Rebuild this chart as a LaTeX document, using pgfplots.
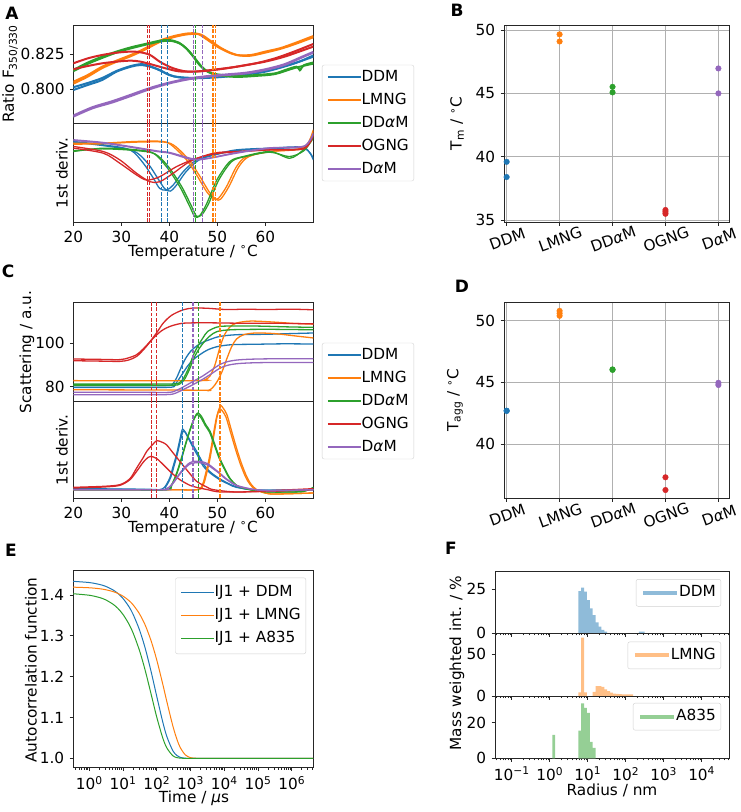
\documentclass[border=0pt]{standalone}
\usepackage{pgfplots}
\pgfplotsset{compat=1.18}
\usepackage{fontspec}
\setmainfont{DejaVu Sans}
\definecolor{cB}{HTML}{1F77B4}
\definecolor{cO}{HTML}{FF7F0E}
\definecolor{cG}{HTML}{2CA02C}
\definecolor{cR}{HTML}{D62728}
\definecolor{cP}{HTML}{9467BD}
\definecolor{hB}{HTML}{8FBBD9}
\definecolor{hO}{HTML}{FFBF86}
\definecolor{hG}{HTML}{95CF95}
\definecolor{gridc}{HTML}{B0B0B0}
\definecolor{spine}{HTML}{262626}
\pgfplotsset{
 every axis/.append style={scale only axis, tick align=outside, tick pos=left,
   axis line style={spine, line width=0.8pt}, tick style={spine, line width=0.8pt},
   major tick length=3.5pt, minor tick length=2pt, legend cell align=left},
 mylegend/.style={legend style={draw=black!18, rounded corners=2pt, fill=white,
   inner xsep=5pt, inner ysep=5pt, row sep=9pt,
   nodes={inner sep=0pt, text height=11pt, text depth=3pt},
   /tikz/every even column/.append style={column sep=12pt}},
   legend image code/.code={\draw[##1] (0pt,0pt) -- (33pt,0pt);}},
 hlegend/.style={legend style={draw=black!18, rounded corners=2pt, fill=white,
   inner xsep=5pt, inner ysep=6.5pt,
   nodes={inner sep=0pt, text height=11pt, text depth=3pt},
   /tikz/every even column/.append style={column sep=10pt}},
   legend image code/.code={\draw[##1, line width=4pt] (0pt,0pt) -- (34pt,0pt);}},
 cu/.style={line width=2pt, smooth, forget plot},
 cd/.style={line width=1.3pt, smooth, forget plot},
 vl/.style={line width=1.1pt, dash pattern=on 3.7pt off 1.6pt, forget plot},
 fax/.style={width=234pt, xmin=-1.44, xmax=4.72, ymin=0,
   xtick={-1,0,1,2,3,4},
   minor xtick={-1.398,-1.301,-1.222,-1.155,-1.097,-1.046,-0.699,-0.523,-0.398,-0.301,-0.222,-0.155,-0.097,-0.046,0.301,0.477,0.602,0.699,0.778,0.845,0.903,0.954,1.301,1.477,1.602,1.699,1.778,1.845,1.903,1.954,2.301,2.477,2.602,2.699,2.778,2.845,2.903,2.954,3.301,3.477,3.602,3.699,3.778,3.845,3.903,3.954,4.301,4.477,4.602,4.699}},
 bl/.style={const plot mark left, draw=none, forget plot},
}
\begin{document}
\fontsize{15.3}{18}\selectfont
\begin{tikzpicture}[font=\fontsize{15.3}{18}\selectfont]
\useasboundingbox (0,0) rectangle (740pt,-812pt);

% ---------------- A upper
\begin{axis}[at={(73.3pt,-25pt)}, anchor=north west, width=240pt, height=98pt,
 xmin=20, xmax=70, ymin=0.7762, ymax=0.8455, xtick=\empty, ytick={0.8,0.825}, yticklabels={0.800,0.825},
 mylegend, legend style={at={(axis description cs:1.036,0)}, anchor=west}]
\addlegendimage{cB, line width=1.5pt}\addlegendentry{DDM}
\addlegendimage{cO, line width=1.5pt}\addlegendentry{LMNG}
\addlegendimage{cG, line width=1.5pt}\addlegendentry{DD\textit{α}M}
\addlegendimage{cR, line width=1.5pt}\addlegendentry{OGNG}
\addlegendimage{cP, line width=1.5pt}\addlegendentry{D\textit{α}M}
\addplot[cB, cu] coordinates {(20,0.7995)(23,0.8031)(26,0.8066)(29,0.8125)(32,0.8160)(34,0.8172)(36,0.8160)(38,0.8137)(40,0.8101)(42,0.8085)(45,0.8078)(50,0.8085)(55,0.8101)(60,0.8125)(65,0.8172)(70,0.8231)};
\addplot[cB, cu] coordinates {(20,0.8015)(23,0.8045)(26,0.8080)(29,0.8130)(32,0.8165)(34.5,0.8178)(37,0.8150)(39,0.8118)(41,0.8092)(44,0.8082)(48,0.8085)(53,0.8098)(58,0.8120)(63,0.8155)(67,0.8195)(70,0.8240)};
\addplot[cO, cu] coordinates {(20,0.8054)(23,0.8101)(26,0.8160)(29,0.8203)(32,0.8243)(35,0.8290)(38,0.8344)(41,0.8377)(44,0.8396)(46,0.8392)(48,0.8349)(50,0.8302)(52,0.8267)(54,0.8243)(57,0.8243)(60,0.8267)(63,0.8290)(66,0.8325)(70,0.8377)};
\addplot[cO, cu] coordinates {(20,0.8040)(23,0.8090)(26,0.8150)(29,0.8195)(32,0.8235)(35,0.8282)(38,0.8335)(41,0.8370)(44,0.8390)(46.5,0.8388)(48.5,0.8345)(50.5,0.8298)(52.5,0.8262)(54.5,0.8240)(57,0.8238)(60,0.8260)(63,0.8285)(66,0.8318)(70,0.8368)};
\addplot[cG, cu] coordinates {(20,0.8137)(23,0.8189)(26,0.8231)(29,0.8267)(32,0.8297)(35,0.8321)(38,0.8344)(40,0.8349)(42,0.8330)(43.5,0.8290)(45,0.8231)(46,0.8184)(47,0.8149)(48,0.8125)(50,0.8106)(54,0.8094)(58,0.8101)(62,0.8113)(64,0.8135)(66.5,0.8160)(67.2,0.8135)(68,0.8170)(70,0.8190)};
\addplot[cG, cu] coordinates {(20,0.8128)(23,0.8180)(26,0.8222)(29,0.8260)(32,0.8290)(35,0.8315)(38,0.8338)(40.3,0.8343)(42.3,0.8322)(43.8,0.8282)(45.3,0.8222)(46.3,0.8178)(47.3,0.8143)(48.3,0.8120)(50,0.8100)(54,0.8088)(58,0.8095)(62,0.8108)(66,0.8150)(70,0.8182)};
\addplot[cR, cu] coordinates {(20,0.8184)(23,0.8219)(26,0.8243)(29,0.8259)(32,0.8267)(34,0.8262)(36,0.8243)(38,0.8196)(40,0.8160)(42,0.8137)(44,0.8125)(47,0.8130)(50,0.8142)(54,0.8160)(58,0.8184)(62,0.8219)(66,0.8267)(70,0.8321)};
\addplot[cR, cu] coordinates {(20,0.8142)(23,0.8165)(26,0.8184)(29,0.8196)(32,0.8203)(34,0.8196)(36,0.8179)(38,0.8160)(40,0.8142)(42,0.8127)(45,0.8125)(48,0.8132)(52,0.8149)(56,0.8172)(60,0.8196)(64,0.8231)(68,0.8278)(70,0.8302)};
\addplot[cP, cu] coordinates {(20,0.7807)(24,0.7866)(28,0.7906)(32,0.7953)(36,0.8002)(40,0.8042)(44,0.8071)(48,0.8090)(52,0.8101)(56,0.8113)(60,0.8137)(64,0.8172)(68,0.8231)(70,0.8259)};
\addplot[cP, cu] coordinates {(20,0.7815)(24,0.7874)(28,0.7915)(32,0.7962)(36,0.8010)(40,0.8048)(44,0.8076)(48,0.8094)(52,0.8106)(56,0.8118)(60,0.8142)(64,0.8178)(68,0.8236)(70,0.8265)};
\addplot[draw=cB, vl] coordinates {(38.4,0.7762)(38.4,0.8455)};
\addplot[draw=cB, vl] coordinates {(39.6,0.7762)(39.6,0.8455)};
\addplot[draw=cO, vl] coordinates {(49.1,0.7762)(49.1,0.8455)};
\addplot[draw=cO, vl] coordinates {(49.65,0.7762)(49.65,0.8455)};
\addplot[draw=cG, vl] coordinates {(45.1,0.7762)(45.1,0.8455)};
\addplot[draw=cG, vl] coordinates {(45.5,0.7762)(45.5,0.8455)};
\addplot[draw=cR, vl] coordinates {(35.5,0.7762)(35.5,0.8455)};
\addplot[draw=cR, vl] coordinates {(35.8,0.7762)(35.8,0.8455)};
\addplot[draw=cP, vl] coordinates {(45.0,0.7762)(45.0,0.8455)};
\addplot[draw=cP, vl] coordinates {(46.95,0.7762)(46.95,0.8455)};
\end{axis}

% ---------------- A lower
\begin{axis}[at={(73.3pt,-123pt)}, anchor=north west, width=240pt, height=99pt,
 xmin=20, xmax=70, ymin=0, ymax=295, ytick=\empty, xtick={20,30,40,50,60}, xticklabels={20,30,40,50,60}]
\addplot[cB, cd] coordinates {(20,240)(26.25,230)(31.8,215)(34.6,175)(36.7,130)(38,100)(39.4,95)(40.8,110)(42.9,150)(45.7,185)(49.2,200)(54,215)(61,220)(68,222)(70,185)};
\addplot[cB, cd] coordinates {(20,238)(26,228)(32.5,212)(35.5,175)(37.6,130)(39,100)(40.2,92)(41.5,110)(43.5,150)(46.2,185)(49.5,200)(54,213)(61,218)(68,220)(70,190)};
\addplot[cO, cd] coordinates {(20,235)(26,235)(33,240)(38.7,240)(40.8,225)(43.6,185)(45.7,140)(47.8,90)(49.2,70)(50.2,70)(51.9,105)(54,165)(56.1,195)(61,210)(68,222)(70,275)};
\addplot[cO, cd] coordinates {(20,232)(26,233)(33,238)(39,238)(41.3,225)(44.1,185)(46.2,140)(48.3,90)(49.7,68)(50.7,68)(52.4,105)(54.5,165)(56.6,195)(61,210)(68,220)(70,270)};
\addplot[cG, cd] coordinates {(20,210)(26.25,220)(33.2,215)(36.7,205)(39.4,165)(42.2,105)(44.3,45)(45.35,15)(46.4,20)(47.8,55)(49.9,125)(52.6,180)(55.4,195)(61,210)(65.1,190)(67.9,215)(70,255)};
\addplot[cG, cd] coordinates {(20,212)(26,218)(33,213)(37,203)(39.8,165)(42.6,105)(44.7,45)(45.7,17)(46.8,22)(48.2,55)(50.3,125)(53,180)(55.8,195)(61,208)(65,195)(68,212)(70,250)};
\addplot[cR, cd] coordinates {(20,225)(26.25,210)(29.7,185)(33.2,145)(36,120)(38,120)(40.8,145)(44.3,180)(49.2,205)(54,210)(61,215)(68,220)(70,260)};
\addplot[cR, cd] coordinates {(20,220)(26.25,205)(29.7,175)(33.2,140)(35.3,125)(38,135)(41.5,165)(45.7,190)(50.5,205)(61,215)(68,218)(70,258)};
\addplot[cP, cd] coordinates {(20,243)(26.25,235)(33.2,220)(37.4,210)(40.1,205)(43.6,190)(45.7,185)(48.5,190)(54,205)(61,220)(68,225)(70,265)};
\addplot[cP, cd] coordinates {(20,245)(26.25,237)(33.2,222)(37.4,212)(40.1,207)(43.6,193)(45.7,187)(48.5,191)(54,207)(61,221)(68,226)(70,262)};
\addplot[draw=cB, vl] coordinates {(38.4,0)(38.4,295)};
\addplot[draw=cB, vl] coordinates {(39.6,0)(39.6,295)};
\addplot[draw=cO, vl] coordinates {(49.1,0)(49.1,295)};
\addplot[draw=cO, vl] coordinates {(49.65,0)(49.65,295)};
\addplot[draw=cG, vl] coordinates {(45.1,0)(45.1,295)};
\addplot[draw=cG, vl] coordinates {(45.5,0)(45.5,295)};
\addplot[draw=cR, vl] coordinates {(35.5,0)(35.5,295)};
\addplot[draw=cR, vl] coordinates {(35.8,0)(35.8,295)};
\addplot[draw=cP, vl] coordinates {(45.0,0)(45.0,295)};
\addplot[draw=cP, vl] coordinates {(46.95,0)(46.95,295)};
\end{axis}

% ---------------- B
\begin{axis}[at={(504pt,-25pt)}, anchor=north west, width=225pt, height=197pt,
 xmin=-0.05, xmax=4.2, ymin=34.85, ymax=50.4, xtick={0,1,2,3,4},
 xticklabels={DDM,LMNG,DD\textit{α}M,OGNG,D\textit{α}M}, ytick={35,40,45,50}, yticklabels={35,40,45,50},
 xticklabel style={rotate=20, anchor=north, yshift=-2pt, xshift=-4pt},
 grid=major, grid style={gridc, line width=0.8pt}]
\addplot[only marks, mark=*, mark size=2.8pt, cB] coordinates {(0,39.6)(0,38.4)};
\addplot[only marks, mark=*, mark size=2.8pt, cO] coordinates {(1,49.66)(1,49.1)};
\addplot[only marks, mark=*, mark size=2.8pt, cG] coordinates {(2,45.52)(2,45.08)};
\addplot[only marks, mark=*, mark size=2.8pt, cR] coordinates {(3,35.8)(3,35.65)(3,35.5)};
\addplot[only marks, mark=*, mark size=2.8pt, cP] coordinates {(4,46.97)(4,45.0)};
\end{axis}

% ---------------- C upper
\begin{axis}[at={(73.3pt,-302pt)}, anchor=north west, width=240pt, height=99pt,
 xmin=20, xmax=70, ymin=73.4, ymax=119.1, xtick=\empty, ytick={80,100}, yticklabels={80,100},
 mylegend, legend style={at={(axis description cs:1.036,0)}, anchor=west}]
\addlegendimage{cB, line width=1.5pt}\addlegendentry{DDM}
\addlegendimage{cO, line width=1.5pt}\addlegendentry{LMNG}
\addlegendimage{cG, line width=1.5pt}\addlegendentry{DD\textit{α}M}
\addlegendimage{cR, line width=1.5pt}\addlegendentry{OGNG}
\addlegendimage{cP, line width=1.5pt}\addlegendentry{D\textit{α}M}
\addplot[cB, cd] coordinates {(20,80.6)(35,80.6)(40,80.6)(40.8,81.5)(41.5,84)(42.2,87.5)(42.9,91)(43.6,93.8)(44.5,96.5)(45.7,98.8)(47,100.5)(48.5,101.8)(50.5,103.2)(54,104)(60,104.2)(65,104.5)(70,104.8)};
\addplot[cB, cd] coordinates {(20,79.7)(35,79.7)(40.5,79.8)(41.2,81)(42,83.5)(42.9,86.5)(43.8,89.5)(45,92.5)(46.5,95)(48,97)(50,98.5)(53,99.4)(58,99.6)(64,99.8)(70,99.7)};
\addplot[cO, cd] coordinates {(20,82.8)(46,82.8)(47.5,83.3)(48.5,85)(49.5,90)(50.5,97.8)(51.5,104)(52.6,107.5)(54,109.4)(57,110.3)(62,109.8)(66,109.2)(70,108.9)};
\addplot[cO, cd] coordinates {(20,78.6)(46,78.4)(48,78.2)(49,79.5)(50,82.5)(51,87)(52,93)(53,98.5)(54,102)(55.5,104)(58,104.8)(62,104.5)(66,103.5)(70,102.5)};
\addplot[cG, cd] coordinates {(20,81.2)(35,81.2)(41,81.3)(42.2,82)(43,84)(44,88.5)(45,94.5)(46,99)(47,102.5)(48,105.5)(49.9,107.5)(52,108)(58,108)(65,107.6)(70,107.4)};
\addplot[cG, cd] coordinates {(20,80.6)(35,80.6)(41,80.7)(42.2,81.3)(43.2,83.5)(44.2,88)(45.2,93.5)(46.2,97.5)(47.2,100.5)(48.5,103.5)(50,105.5)(53,106.3)(60,106.5)(65,106.4)(70,106.3)};
\addplot[cR, cd] coordinates {(20,92.8)(26,92.6)(29.7,92.5)(31.5,93.3)(33.2,94.8)(34.6,97.5)(36,100.9)(37.4,105)(38.75,109.4)(40.5,113)(42.9,115.5)(45,116.3)(48,116.2)(52,115.6)(56,115.8)(60,115.6)(65,115.8)(70,115.5)};
\addplot[cR, cd] coordinates {(20,92.0)(26,91.8)(29.7,91.7)(31.5,92.3)(33.2,94.0)(34.8,97.5)(36.7,102.5)(38.5,106)(40.1,107.8)(42,109)(43.6,109.4)(48,109.5)(55,109.3)(62,109.3)(70,109.0)};
\addplot[cP, cd] coordinates {(20,77.4)(35,77.4)(40,77.4)(41.5,78.3)(43,80)(45,82.5)(47,85)(49,88)(50.5,90.2)(52,91.5)(54,92.3)(57,92.7)(62,92.9)(70,92.9)};
\addplot[cP, cd] coordinates {(20,76.3)(35,76.3)(40,76.4)(41.5,77.2)(43,78.8)(45,81)(47,83.5)(49,86.3)(50.5,88.5)(52,89.8)(54,90.6)(57,91)(62,91.2)(70,91.2)};
\addplot[draw=cB, vl] coordinates {(42.7,73.4)(42.7,119.1)};
\addplot[draw=cB, vl] coordinates {(42.75,73.4)(42.75,119.1)};
\addplot[draw=cO, vl] coordinates {(50.55,73.4)(50.55,119.1)};
\addplot[draw=cO, vl] coordinates {(50.75,73.4)(50.75,119.1)};
\addplot[draw=cG, vl] coordinates {(46.05,73.4)(46.05,119.1)};
\addplot[draw=cR, vl] coordinates {(36.3,73.4)(36.3,119.1)};
\addplot[draw=cR, vl] coordinates {(37.35,73.4)(37.35,119.1)};
\addplot[draw=cP, vl] coordinates {(44.8,73.4)(44.8,119.1)};
\addplot[draw=cP, vl] coordinates {(45.0,73.4)(45.0,119.1)};
\end{axis}

% ---------------- C lower
\begin{axis}[at={(73.3pt,-401pt)}, anchor=north west, width=240pt, height=97pt,
 xmin=20, xmax=70, ymin=0, ymax=291, ytick=\empty, xtick={20,30,40,50,60}, xticklabels={20,30,40,50,60}]
\addplot[cB, cd] coordinates {(20,28)(30,27)(36,26)(38,25)(39,32)(40.1,60)(40.8,95)(41.5,130)(42.2,175)(42.7,205)(43.2,200)(44.3,170)(45,150)(46,125)(47.1,95)(48.5,75)(50.5,55)(52.6,40)(54,32)(58,24)(61,22)(70,25)};
\addplot[cB, cd] coordinates {(20,28)(38,25)(39.2,33)(40.3,62)(41,97)(41.7,133)(42.4,178)(42.9,200)(43.4,196)(44.5,168)(45.5,145)(47.3,98)(48.7,76)(50.7,56)(52.8,40)(54,33)(58,24)(70,25)};
\addplot[cO, cd] coordinates {(20,25)(40,25)(46,25)(47.1,40)(47.8,75)(48.5,120)(49.2,180)(49.9,240)(50.4,268)(50.7,278)(51.2,270)(52,250)(53,200)(54,150)(55,105)(56.1,65)(57,42)(58.2,25)(60,15)(62,12)(70,15)};
\addplot[cO, cd] coordinates {(20,25)(40,25)(45.8,25)(46.9,40)(47.6,75)(48.3,118)(49,175)(49.7,233)(50.2,260)(50.5,268)(51,262)(51.8,243)(52.8,195)(53.8,146)(54.8,102)(55.9,63)(56.8,41)(58,25)(60,15)(62,12)(70,15)};
\addplot[cG, cd] coordinates {(20,25)(30,25)(39.4,25)(40.5,38)(41.5,70)(42.5,115)(43.6,170)(44.7,220)(45.5,248)(46,255)(46.7,245)(47.6,220)(48.5,200)(49.5,160)(50.5,120)(51.5,90)(52.6,60)(54,38)(55.4,30)(58,22)(61,18)(65,18)(68,20)(70,32)};
\addplot[cG, cd] coordinates {(20,25)(30,25)(39.3,25)(40.4,38)(41.4,70)(42.4,114)(43.5,168)(44.6,217)(45.4,244)(45.9,250)(46.6,241)(47.5,217)(48.4,197)(49.4,158)(50.4,119)(51.4,89)(52.5,60)(54,38)(55.4,30)(58,22)(61,18)(65,18)(68,20)(70,30)};
\addplot[cR, cd] coordinates {(20,32)(26.25,35)(29.7,40)(31.8,58)(33.2,90)(34.6,122)(35.3,140)(36.7,163)(37.4,172)(38.4,168)(39.4,160)(40.8,135)(42.2,110)(44,78)(45.7,50)(47.8,33)(49.2,25)(54,18)(61,22)(70,28)};
\addplot[cR, cd] coordinates {(20,30)(26.25,33)(29.7,38)(31.8,55)(33.2,80)(34.6,108)(35.6,122)(36.2,125)(37.4,118)(38.75,100)(40.5,75)(42.2,55)(44.3,38)(45.7,32)(48,25)(51,18)(61,20)(70,25)};
\addplot[cP, cd] coordinates {(20,25)(38,25)(39.4,27)(40.5,40)(41.5,60)(42.5,80)(43.6,98)(44.3,106)(45,110)(46,110)(47.1,108)(48,103)(49.2,90)(50.5,75)(51.5,62)(52.6,50)(54,38)(56.1,30)(58,25)(61,22)(70,25)};
\addplot[cP, cd] coordinates {(20,25)(38,25)(39.4,27)(40.5,39)(41.5,58)(42.5,77)(43.6,94)(44.3,102)(45,105)(46,106)(47.1,104)(48,99)(49.2,87)(50.5,73)(51.5,60)(52.6,49)(54,37)(56.1,29)(58,25)(61,22)(70,25)};
\addplot[draw=cB, vl] coordinates {(42.7,0)(42.7,291)};
\addplot[draw=cB, vl] coordinates {(42.75,0)(42.75,291)};
\addplot[draw=cO, vl] coordinates {(50.55,0)(50.55,291)};
\addplot[draw=cO, vl] coordinates {(50.75,0)(50.75,291)};
\addplot[draw=cG, vl] coordinates {(46.05,0)(46.05,291)};
\addplot[draw=cR, vl] coordinates {(36.3,0)(36.3,291)};
\addplot[draw=cR, vl] coordinates {(37.35,0)(37.35,291)};
\addplot[draw=cP, vl] coordinates {(44.8,0)(44.8,291)};
\addplot[draw=cP, vl] coordinates {(45.0,0)(45.0,291)};
\end{axis}

% ---------------- D
\begin{axis}[at={(504pt,-302.3pt)}, anchor=north west, width=225pt, height=196pt,
 xmin=-0.05, xmax=4.2, ymin=35.63, ymax=51.49, xtick={0,1,2,3,4},
 xticklabels={DDM,LMNG,DD\textit{α}M,OGNG,D\textit{α}M}, ytick={40,45,50}, yticklabels={40,45,50},
 xticklabel style={rotate=20, anchor=north, yshift=-2pt, xshift=-4pt},
 grid=major, grid style={gridc, line width=0.8pt}]
\addplot[only marks, mark=*, mark size=2.8pt, cB] coordinates {(0,42.72)(0,42.7)};
\addplot[only marks, mark=*, mark size=2.8pt, cO] coordinates {(1,50.8)(1,50.6)(1,50.4)};
\addplot[only marks, mark=*, mark size=2.8pt, cG] coordinates {(2,46.06)(2,46.02)};
\addplot[only marks, mark=*, mark size=2.8pt, cR] coordinates {(3,37.33)(3,36.3)};
\addplot[only marks, mark=*, mark size=2.8pt, cP] coordinates {(4,44.98)(4,44.8)};
\end{axis}

% ---------------- E
\begin{axis}[xmode=log, at={(73pt,-570.7pt)}, anchor=north west, width=240pt, height=197pt,
 xmin=0.33, xmax=4.27e6, ymin=0.977, ymax=1.4595,
 xtick={1,10,100,1000,10000,100000,1000000},
 xticklabels={10\textsuperscript{0},10\textsuperscript{1},10\textsuperscript{2},10\textsuperscript{3},10\textsuperscript{4},10\textsuperscript{5},10\textsuperscript{6}},
 minor xtick={0.4,0.5,0.6,0.7,0.8,0.9,2,3,4,5,6,7,8,9,20,30,40,50,60,70,80,90,200,300,400,500,600,700,800,900,2000,3000,4000,5000,6000,7000,8000,9000,2e4,3e4,4e4,5e4,6e4,7e4,8e4,9e4,2e5,3e5,4e5,5e5,6e5,7e5,8e5,9e5,2e6,3e6,4e6},
 ytick={1.0,1.1,1.2,1.3,1.4}, yticklabels={1.0,1.1,1.2,1.3,1.4},
 mylegend, legend style={at={(axis description cs:0.971,0.965)}, anchor=north east, inner ysep=8pt, row sep=9pt},
 legend image code/.code={\draw[#1] (0pt,0pt) -- (33pt,0pt);},
 /tikz/every even column/.append style={column sep=13pt}]
\addplot[cB, line width=1pt, smooth] coordinates {(0.33,1.4335)(1,1.4305)(2,1.4259)(3,1.4215)(5,1.4127)(7,1.4041)(10,1.3915)(15,1.3715)(20,1.3524)(30,1.3172)(40,1.2855)(50,1.2570)(70,1.2082)(100,1.1518)(150,1.0897)(200,1.0530)(300,1.0185)(400,1.0065)(500,1.0023)(700,1.0003)(1000,1.0)(1e4,1.0)(1e5,1.0)(1e6,1.0)(4.27e6,1.0)};
\addlegendentry{IJ1 + DDM}
\addplot[cO, line width=1pt, smooth] coordinates {(0.33,1.4192)(1,1.4177)(2,1.4154)(3,1.4131)(5,1.4085)(7,1.4040)(10,1.3973)(15,1.3864)(20,1.3758)(30,1.3555)(40,1.3363)(50,1.3181)(70,1.2847)(100,1.2410)(150,1.1825)(200,1.1383)(300,1.0793)(400,1.0455)(500,1.0261)(700,1.0086)(1000,1.0016)(1500,1.0001)(2000,1.0)(1e4,1.0)(1e5,1.0)(1e6,1.0)(4.27e6,1.0)};
\addlegendentry{IJ1 + LMNG}
\addplot[cG, line width=1pt, smooth] coordinates {(0.33,1.4031)(1,1.3994)(2,1.3939)(3,1.3885)(5,1.3778)(7,1.3675)(10,1.3525)(15,1.3288)(20,1.3068)(30,1.2670)(40,1.2324)(50,1.2022)(70,1.1532)(100,1.1010)(150,1.0504)(200,1.0252)(300,1.0063)(400,1.0016)(500,1.0004)(700,1.0)(1000,1.0)(1e4,1.0)(1e5,1.0)(1e6,1.0)(4.27e6,1.0)};
\addlegendentry{IJ1 + A835}
\end{axis}

% ---------------- F1 (x = log10 of radius in nm)
\begin{axis}[fax, at={(495pt,-571.7pt)}, anchor=north west, height=61.6pt, ymax=34.8,
 ytick={0,25}, yticklabels={0,25}, xticklabels={},
 hlegend, legend style={at={(axis description cs:0.966,0.88)}, anchor=north east}]
\addlegendimage{hB}\addlegendentry{DDM}
\addplot[bl, fill=hB] coordinates {(0.753,23.9)(0.829,25.75)(0.905,23.5)(0.981,18.8)(1.057,14.1)(1.133,10.3)(1.209,6.2)(1.285,3.8)(1.361,1.9)(1.437,0.9)(1.513,0.9)} \closedcycle;
\addplot[bl, fill=hB] coordinates {(2.349,1.0)(2.425,1.0)(2.501,1.0)} \closedcycle;
\end{axis}

% ---------------- F2
\begin{axis}[fax, at={(495pt,-633.3pt)}, anchor=north west, height=62.7pt, ymax=75.2,
 ytick={0,50}, yticklabels={0,50}, xticklabels={},
 hlegend, legend style={at={(axis description cs:0.966,0.866)}, anchor=north east}]
\addlegendimage{hO}\addlegendentry{LMNG}
\addplot[bl, fill=hO] coordinates {(0.753,4.5)(0.829,70)(0.905,4.5)(0.981,4.5)} \closedcycle;
\addplot[bl, fill=hO] coordinates {(1.133,5)(1.209,12)(1.285,12)(1.361,11)(1.437,8)(1.513,6)(1.589,4)(1.665,3)(1.741,2.5)(1.817,2.2)(1.893,2)(1.969,2)(2.045,2)(2.121,2)(2.197,2)} \closedcycle;
\end{axis}

% ---------------- F3
\begin{axis}[fax, at={(495pt,-696pt)}, anchor=north west, height=62.3pt, ymax=35,
 ytick={0,20}, yticklabels={0,20},
 xticklabels={10\textsuperscript{−1},10\textsuperscript{0},10\textsuperscript{1},10\textsuperscript{2},10\textsuperscript{3},10\textsuperscript{4}},
 hlegend, legend style={at={(axis description cs:0.966,0.888)}, anchor=north east}]
\addlegendimage{hG}\addlegendentry{A835}
\addplot[bl, fill=hG] coordinates {(0.069,13.1)(0.145,13.1)} \closedcycle;
\addplot[bl, fill=hG] coordinates {(0.753,15.5)(0.829,30.8)(0.905,28.4)(0.981,25.5)(1.057,9.3)(1.133,5.8)(1.209,5.8)} \closedcycle;
\end{axis}

% ---------------- labels
\node[rotate=90] at (10pt,-74pt) {Ratio F\textsubscript{350/330}};
\node[rotate=90] at (62pt,-173pt) {1st deriv.};
\node at (193pt,-252pt) {Temperature / \textsuperscript{∘}C};
\node[rotate=90] at (457pt,-123.5pt) {T\textsubscript{m} / \textsuperscript{∘}C};
\node[rotate=90] at (27pt,-352pt) {Scattering / a.u.};
\node[rotate=90] at (62pt,-450pt) {1st deriv.};
\node at (193pt,-528pt) {Temperature / \textsuperscript{∘}C};
\node[rotate=90] at (455pt,-400pt) {T\textsubscript{agg} / \textsuperscript{∘}C};
\node[rotate=90] at (31pt,-670pt) {Autocorrelation function};
\node at (194pt,-798pt) {Time / \textit{μ}s};
\node[rotate=90] at (457pt,-663pt) {Mass weighted int. / \%};
\node at (612pt,-790pt) {Radius / nm};
\node[font=\fontsize{17}{20}\selectfont\bfseries] at (12pt,-13pt) {A};
\node[font=\fontsize{17}{20}\selectfont\bfseries] at (457pt,-10pt) {B};
\node[font=\fontsize{17}{20}\selectfont\bfseries] at (8pt,-271pt) {C};
\node[font=\fontsize{17}{20}\selectfont\bfseries] at (462pt,-286pt) {D};
\node[font=\fontsize{17}{20}\selectfont\bfseries] at (11pt,-550pt) {E};
\node[font=\fontsize{17}{20}\selectfont\bfseries] at (451pt,-548pt) {F};
\end{tikzpicture}
\end{document}
